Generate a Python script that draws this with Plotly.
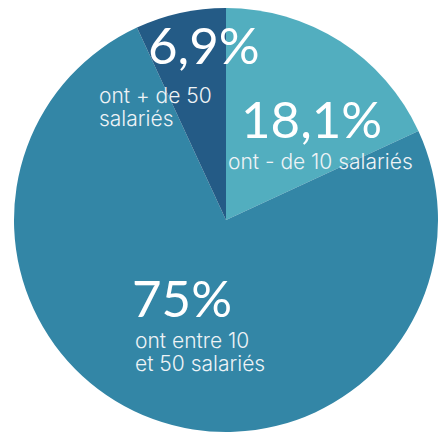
import plotly.graph_objects as go

categories = ["ont - de 10 salariés", "ont entre 10 et 50 salariés", "ont + de 50 salariés"]
values = [18.1, 75.0, 6.9]
pct_labels = ["18,1%", "75%", "6,9%"]
label_lines = [["ont - de 10 salariés"], ["ont entre 10", "et 50 salariés"], ["ont + de 50", "salariés"]]
colors = ["#52aebf", "#3386a6", "#245b86"]

W, H = 446, 438
OFF = 8  # page body margin

def fx(x):
    return (x - OFF) / W

def fy(y):
    return 1 - (y - OFF) / H

fig = go.Figure(go.Pie(
    labels=categories, values=values, sort=False, direction="clockwise",
    rotation=0, textinfo="none", hoverinfo="label+percent",
    marker=dict(colors=colors, line=dict(width=0)),
    domain=dict(x=[fx(14), fx(438)], y=[fy(432), fy(8)]),
    showlegend=False,
))

anns = []
big_pos = [(311, 118), (182, 297), (204, 45)]
for t, (x, y) in zip(pct_labels, big_pos):
    anns.append(dict(text=t, x=fx(x), y=fy(y), xref="paper", yref="paper", showarrow=False,
                     xanchor="center", yanchor="middle",
                     font=dict(family="Lato", size=51, color="white")))
small_pos = [(226, [162]), (133, [340, 363]), (97, [95, 118])]
for lines, (x, ys) in zip(label_lines, small_pos):
    for t, y in zip(lines, ys):
        anns.append(dict(text=t, x=fx(x), y=fy(y), xref="paper", yref="paper", showarrow=False,
                         xanchor="left", yanchor="middle", align="left",
                         font=dict(family="Inter", size=21, weight=300, color="#eef3f6")))

fig.update_layout(width=W, height=H, margin=dict(l=0, r=0, t=0, b=0),
                  paper_bgcolor="white", plot_bgcolor="white", annotations=anns)
fig.write_html("out.html")
